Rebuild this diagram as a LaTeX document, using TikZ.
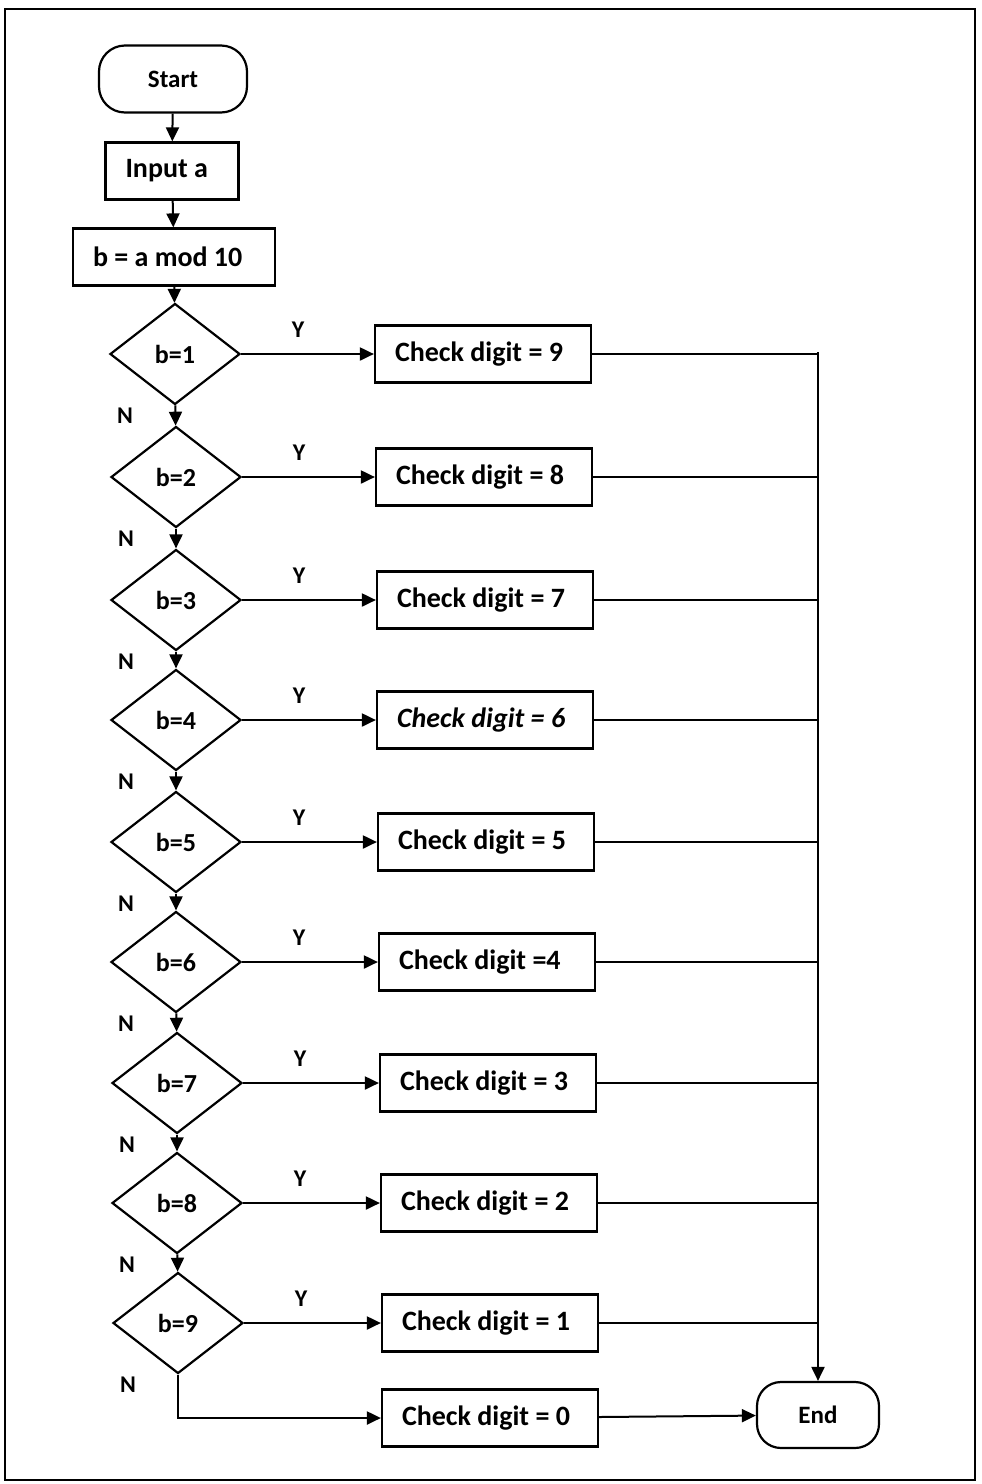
\documentclass[tikz,border=0pt]{standalone}
\usepackage{fontspec}
\setmainfont{Carlito}
\usetikzlibrary{shapes.geometric,arrows.meta,positioning}
\newcommand{\flushtxt}[2][88pt]{\makebox[#1][l]{#2}}
\tikzset{
  box/.style={draw,line width=1.1pt,minimum height=28.5pt,inner xsep=10pt,inner ysep=0pt,font=\fontsize{14}{16}\selectfont\bfseries},
  term/.style={draw,line width=1.1pt,rounded corners=13pt,minimum width=74pt,minimum height=33.5pt,inner sep=0pt,font=\fontsize{12.5}{14}\selectfont\bfseries},
  dec/.style={draw,diamond,line width=1.1pt,minimum width=65pt,minimum height=50.5pt,inner sep=0pt,font=\fontsize{13}{15}\selectfont\bfseries},
  flow/.style={line width=1pt,-{Triangle[length=7pt,width=6.5pt]}},
  link/.style={line width=1pt},
  lbl/.style={font=\fontsize{12}{14}\selectfont\bfseries}
}
\begin{document}
\begin{tikzpicture}[x=0.5pt,y=-0.5pt]
\useasboundingbox (0,0) rectangle (981,1484);
% frame
\draw[line width=1.4pt] (5,9) rectangle (975,1480);
% Start, input, remainder
\node[term] (start) at (173,79) {Start};
\node[box] (inp) at (172,171) {\flushtxt[46.5pt]{Input a}};
\node[box] (mod) at (174,257) {\flushtxt[81pt]{b = a mod 10}};
\draw[flow] (start) -- (inp);
\draw[flow] (inp) -- (mod);
% collector line on the right
\coordinate (col) at (818,352);
% tests b=1 ... b=9
\foreach \i/\y/\dx/\bx/\txt in {1/354/175/483/{Check digit = 9},2/477/176/484/{Check digit = 8},
    3/600/176/485/{Check digit = 7},4/720/176/485/{\textit{Check digit = 6}},
    5/842/176/486/{Check digit = 5},6/962/176/487/{Check digit =4},
    7/1083/177/488/{Check digit = 3},8/1203/177/489/{Check digit = 2},
    9/1323/178/490/{Check digit = 1}}{
  \node[dec] (d\i) at (\dx,\y) {b=\i};
  \node[box] (c\i) at (\bx,\y) {\flushtxt{\txt}};
  \draw[flow] (d\i) -- (c\i);
  \draw[link] (c\i.east) -- (c\i.east -| col);
  \node[lbl] (y\i) at (\dx+123,\y-24) {Y};
  \node[lbl] (n\i) at (\dx-50,\y+62) {N};
}
\draw[flow] (mod) -- (d1);
\foreach \i in {1,...,8}{
  \pgfmathtruncatemacro{\j}{\i+1}
  \draw[flow] (d\i) -- (d\j);
}
% last case and end
\node[box] (c0) at (490,1418) {\flushtxt{Check digit = 0}};
\node[term,minimum width=61pt,minimum height=33pt,rounded corners=12pt] (end) at (818,1415) {End};
\draw[flow] (d9.south) |- (c0.west);
\draw[flow] (c0) -- (end);
\draw[flow] (col) -- (col |- end.north);
\end{tikzpicture}
\end{document}
